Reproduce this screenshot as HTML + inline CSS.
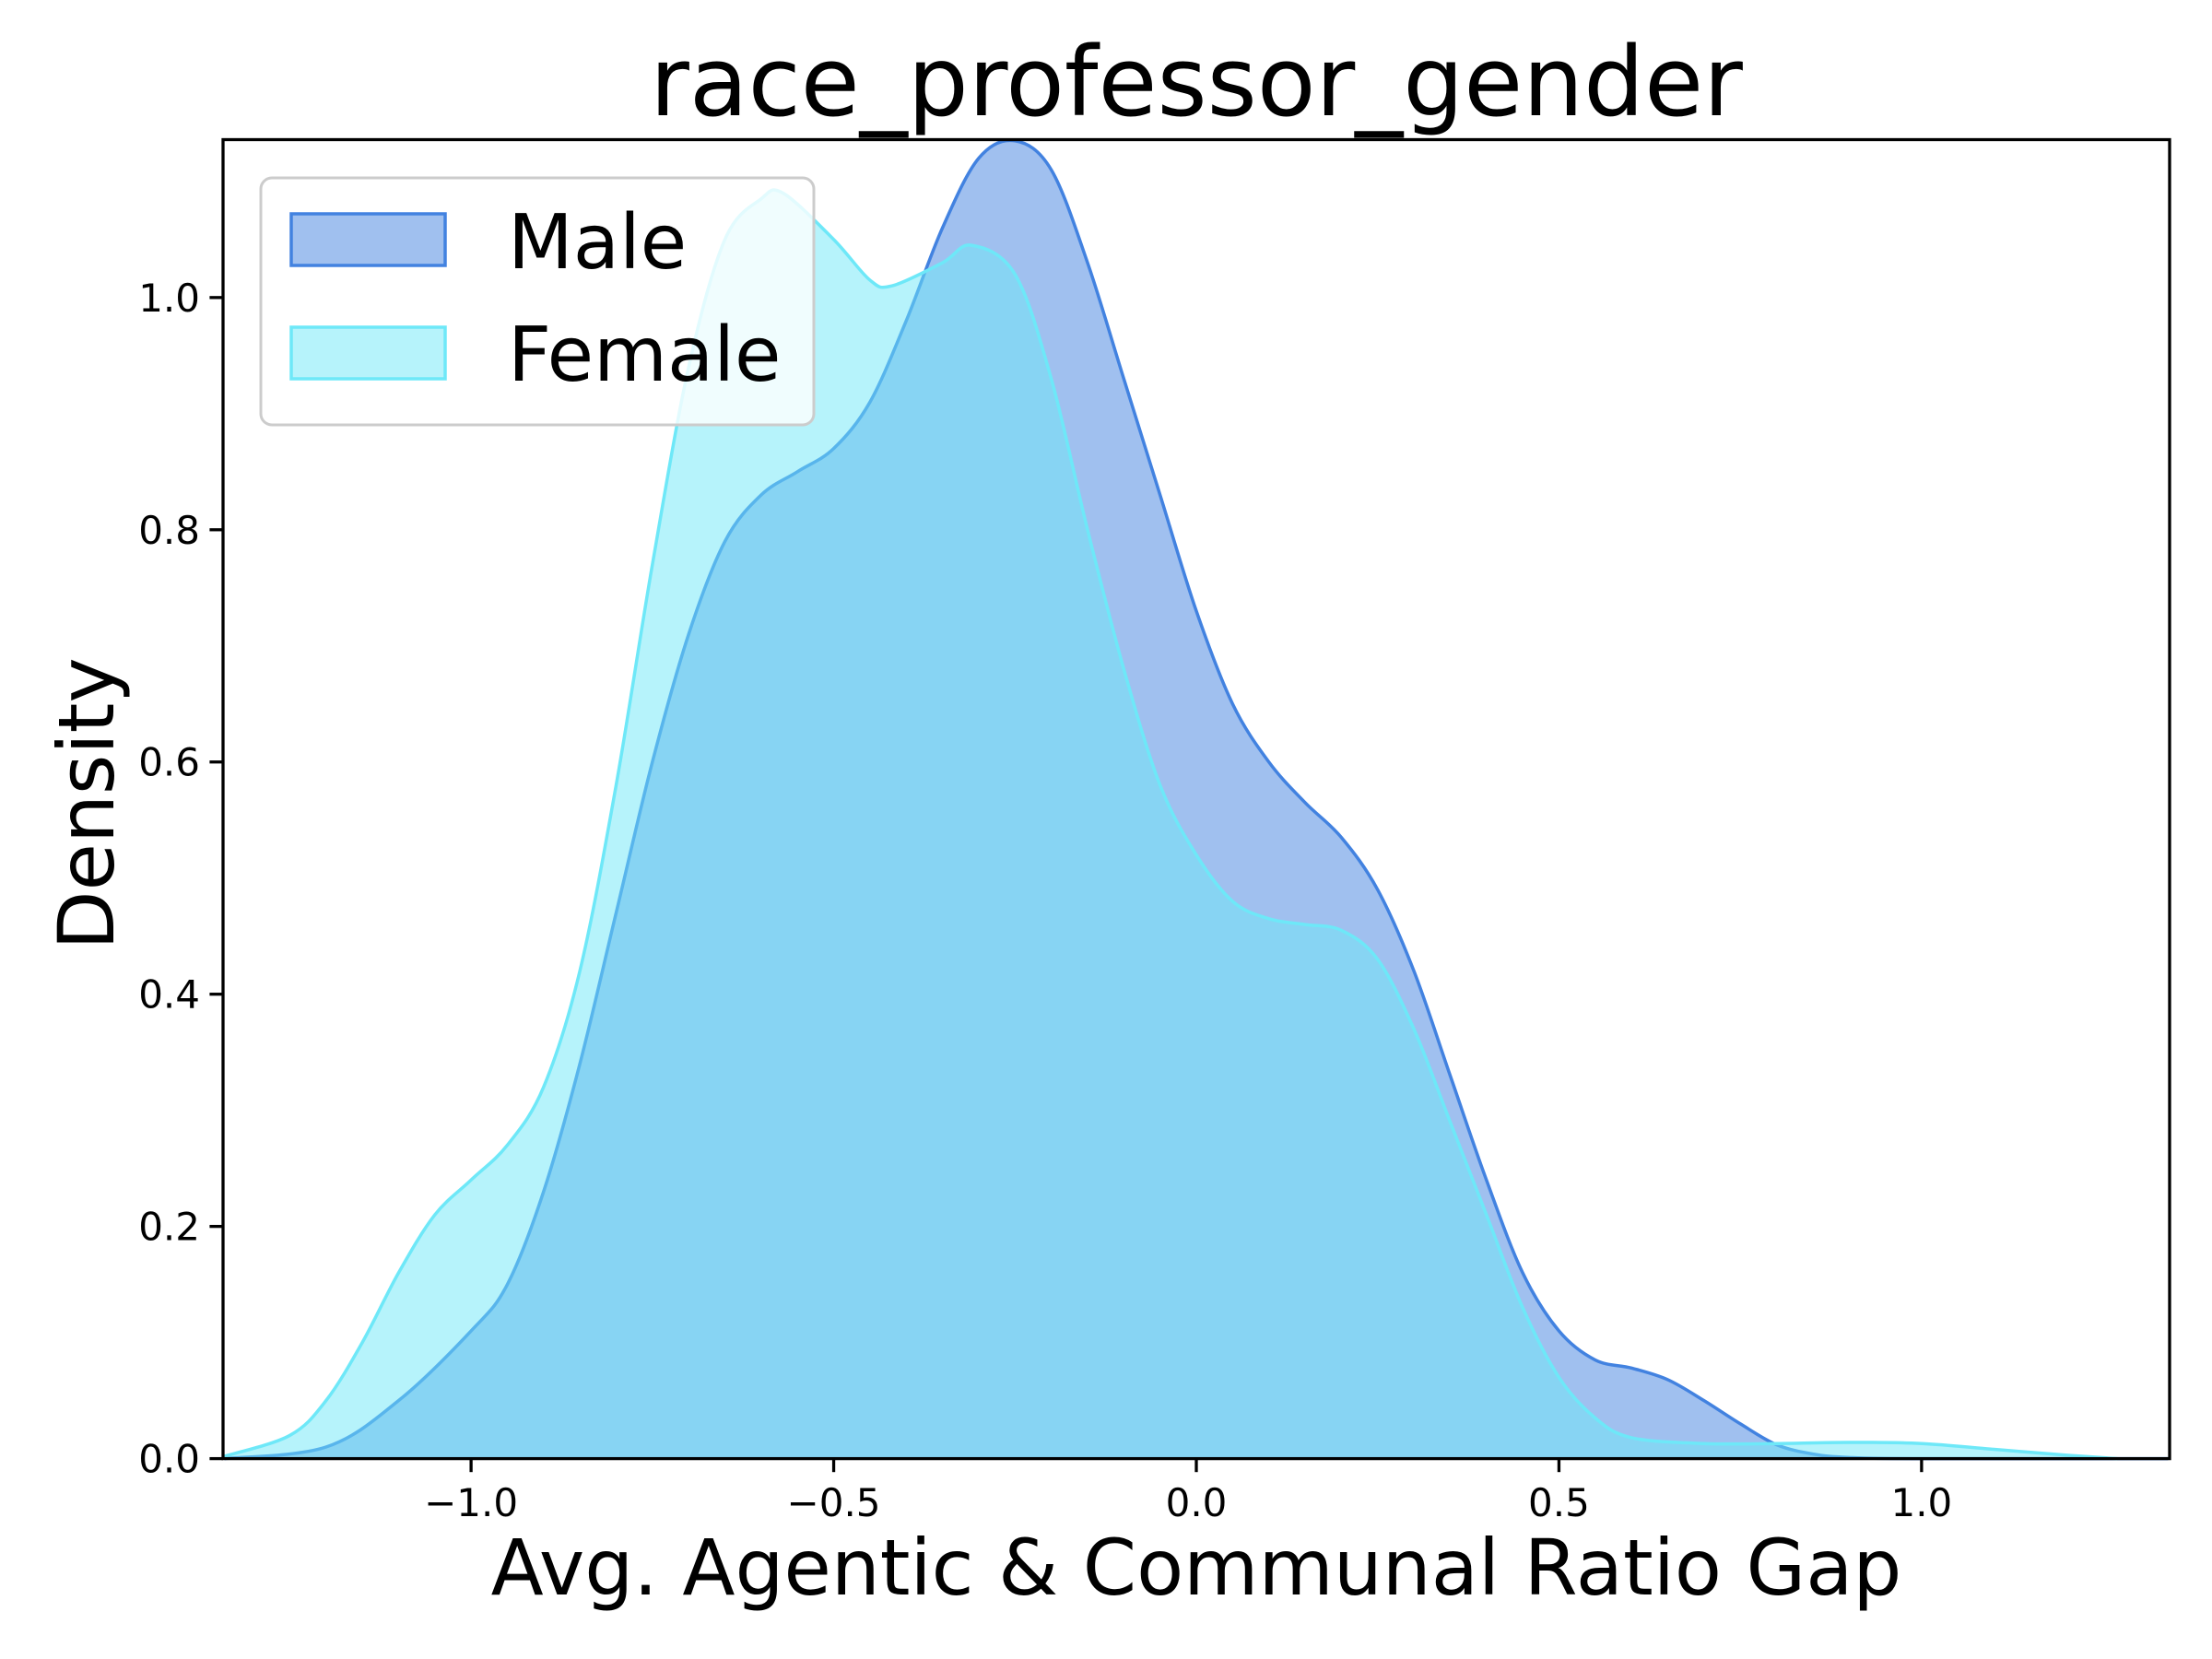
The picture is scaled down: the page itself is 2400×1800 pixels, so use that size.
<!DOCTYPE html>
<html><head><meta charset="utf-8"><style>
html,body{margin:0;padding:0;background:#fff}
svg{display:block;font-family:"DejaVu Sans","Liberation Sans",sans-serif}
</style></head><body>
<svg id="chart" width="2400" height="1800" viewBox="0 0 2400 1800" xmlns="http://www.w3.org/2000/svg">
<rect width="2400" height="1800" fill="#fff"/>
<g id="plot"></g>
<g id="axes"></g>
<text x="1298" y="125" font-size="104" text-anchor="middle">race_professor_gender</text>
<text x="1298" y="1730" font-size="83.5" text-anchor="middle">Avg. Agentic &amp; Communal Ratio Gap</text>
<text transform="translate(123,872) rotate(-90)" font-size="83.5" text-anchor="middle">Density</text>
<g>
<rect x="283" y="193" width="600" height="268" rx="12" fill="#fff" fill-opacity="0.8" stroke="#cccccc" stroke-width="3"/>
<rect x="316" y="232" width="167" height="56" fill="#4282e0" fill-opacity="0.5" stroke="#4282e0" stroke-width="3.5"/>
<text x="551" y="291" font-size="82">Male</text>
<rect x="316" y="355" width="167" height="56" fill="#6ee8f8" fill-opacity="0.5" stroke="#6ee8f8" stroke-width="3.5"/>
<text x="551" y="413" font-size="82">Female</text>
</g>
</svg>
<script>
const xsMale = [-1.34,-1.2,-1.1,-1.0,-0.95,-0.9,-0.85,-0.8,-0.75,-0.7,-0.65,-0.6,-0.55,-0.5,-0.45,-0.4,-0.35,-0.3,-0.25,-0.2,-0.15,-0.1,-0.05,0,0.05,0.1,0.15,0.2,0.25,0.3,0.35,0.4,0.45,0.5,0.55,0.6,0.65,0.7,0.75,0.8,0.85,0.9,1.0,1.34];
const maleDensity = [0,0.01,0.05,0.11,0.15,0.23,0.34,0.47,0.6,0.71,0.79,0.83,0.85,0.87,0.91,0.98,1.06,1.12,1.135,1.11,1.03,0.93,0.83,0.73,0.65,0.6,0.565,0.535,0.49,0.42,0.33,0.24,0.16,0.11,0.085,0.078,0.068,0.05,0.03,0.012,0.004,0.001,0,0];
const xsFemale = [-1.34,-1.25,-1.2,-1.15,-1.1,-1.05,-1.0,-0.95,-0.9,-0.85,-0.8,-0.75,-0.7,-0.65,-0.6,-0.57,-0.5,-0.45,-0.42,-0.35,-0.31,-0.25,-0.2,-0.15,-0.1,-0.05,0,0.05,0.1,0.15,0.2,0.25,0.3,0.35,0.4,0.45,0.5,0.55,0.6,0.7,0.8,0.9,1.0,1.1,1.2,1.27];
const femaleDensity = [0.002,0.02,0.05,0.1,0.16,0.21,0.24,0.27,0.32,0.42,0.58,0.77,0.94,1.05,1.085,1.09,1.05,1.015,1.01,1.03,1.045,1.02,0.93,0.8,0.68,0.58,0.52,0.48,0.465,0.46,0.455,0.43,0.37,0.29,0.21,0.13,0.07,0.035,0.018,0.013,0.013,0.014,0.013,0.008,0.003,0];
const xTicks = [-1.0,-0.5,0.0,0.5,1.0];
const xTickLabels = ["\u22121.0","\u22120.5","0.0","0.5","1.0"];
const yTicks = [0,0.2,0.4,0.6,0.8,1.0];
const yTickLabels = ["0.0","0.2","0.4","0.6","0.8","1.0"];

const L=242,R=2354,T=151.5,B=1582.6, XMIN=-1.342, XMAX=1.342, YMAX=1.136;
const sx=v=>L+(v-XMIN)/(XMAX-XMIN)*(R-L);
const sy=v=>B-v/YMAX*(B-T);
const NS="http://www.w3.org/2000/svg";
function smoothPath(xs,ys){
  const p=xs.map((x,i)=>[sx(x),sy(ys[i])]);
  let d="M"+p[0][0]+","+p[0][1];
  for(let i=0;i<p.length-1;i++){
    const p0=p[Math.max(0,i-1)],p1=p[i],p2=p[i+1],p3=p[Math.min(p.length-1,i+2)];
    const c1=[p1[0]+(p2[0]-p0[0])/6,p1[1]+(p2[1]-p0[1])/6];
    const c2=[p2[0]-(p3[0]-p1[0])/6,p2[1]-(p3[1]-p1[1])/6];
    d+=" C"+c1[0]+","+c1[1]+" "+c2[0]+","+c2[1]+" "+p2[0]+","+p2[1];
  }
  return d;
}
const plot=document.getElementById('plot');
function series(xs,ys,color,name){
  const line=smoothPath(xs,ys);
  const f=document.createElementNS(NS,'path');
  f.setAttribute('d',line+" L"+sx(xs[xs.length-1])+","+sy(0)+" L"+sx(xs[0])+","+sy(0)+" Z");
  f.setAttribute('fill',color);f.setAttribute('fill-opacity','0.5');
  
  
  plot.appendChild(f);
  const s=document.createElementNS(NS,'path');
  s.setAttribute('d',line);s.setAttribute('fill','none');s.setAttribute('stroke',color);s.setAttribute('stroke-width','3.5');
  
  
  plot.appendChild(s);
}
series(xsMale,maleDensity,'#4282e0','male-density');
series(xsFemale,femaleDensity,'#6ee8f8','female-density');

const axes=document.getElementById('axes');
const frame=document.createElementNS(NS,'rect');
frame.setAttribute('x',L);frame.setAttribute('y',T);frame.setAttribute('width',R-L);frame.setAttribute('height',B-T);
frame.setAttribute('fill','none');frame.setAttribute('stroke','#000');frame.setAttribute('stroke-width','3.3');


axes.appendChild(frame);
xTicks.forEach((v,i)=>{
  const t=document.createElementNS(NS,'line');
  t.setAttribute('x1',sx(v));t.setAttribute('x2',sx(v));t.setAttribute('y1',B);t.setAttribute('y2',B+14.6);
  t.setAttribute('stroke','#000');t.setAttribute('stroke-width','3.3');
  
  
  axes.appendChild(t);
  const l=document.createElementNS(NS,'text');
  l.setAttribute('x',sx(v));l.setAttribute('y',1645);l.setAttribute('font-size','42');l.setAttribute('text-anchor','middle');
  l.textContent=xTickLabels[i];
  
  
  axes.appendChild(l);
});
yTicks.forEach((v,i)=>{
  const t=document.createElementNS(NS,'line');
  t.setAttribute('x1',L-14.6);t.setAttribute('x2',L);t.setAttribute('y1',sy(v));t.setAttribute('y2',sy(v));
  t.setAttribute('stroke','#000');t.setAttribute('stroke-width','3.3');
  
  
  axes.appendChild(t);
  const l=document.createElementNS(NS,'text');
  l.setAttribute('x',L-25);l.setAttribute('y',sy(v)+15);l.setAttribute('font-size','42');l.setAttribute('text-anchor','end');
  l.textContent=yTickLabels[i];
  
  
  axes.appendChild(l);
});
</script>
</body></html>
